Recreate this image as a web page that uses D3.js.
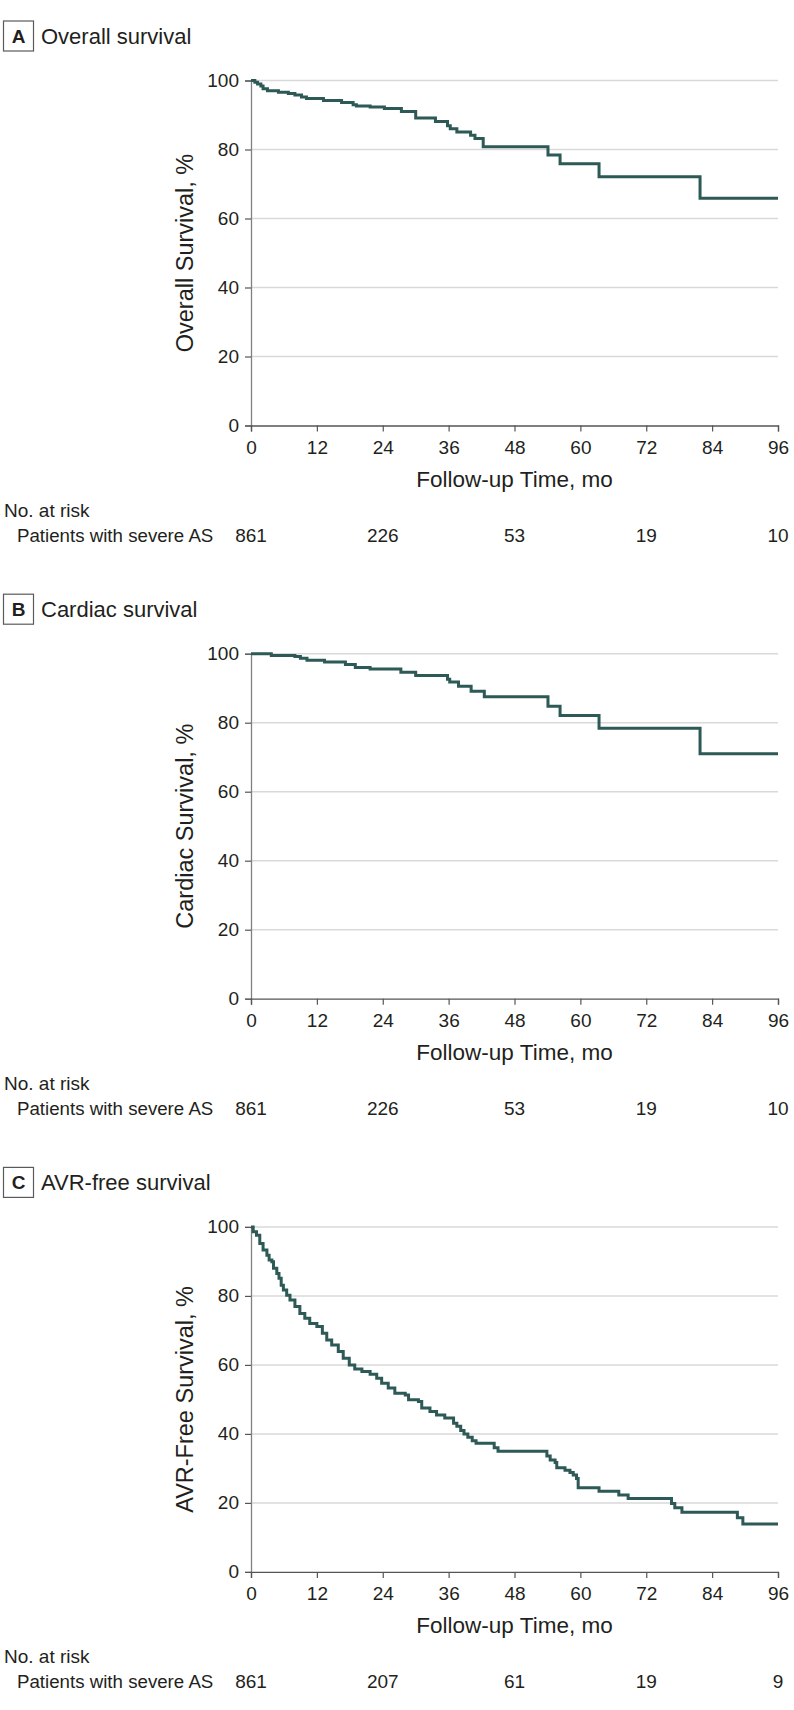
<!DOCTYPE html>
<html><head><meta charset="utf-8">
<script src="https://cdn.jsdelivr.net/npm/d3@7"></script>
<style>
html,body{margin:0;padding:0;background:#fff;}
svg text{font-family:"Liberation Sans",Arial,sans-serif;fill:#231f20;}
</style></head>
<body>
<svg id="chart" width="794" height="1710"></svg>
<script>
// ---------- data ----------
const panelLetters = ["A", "B", "C"];
const panelTitles = ["Overall survival", "Cardiac survival", "AVR-free survival"];
const yAxisTitles = ["Overall Survival, %", "Cardiac Survival, %", "AVR-Free Survival, %"];
const xAxisTitle = "Follow-up Time, mo";
const xTicks = [0, 12, 24, 36, 48, 60, 72, 84, 96];
const yTicks = [0, 20, 40, 60, 80, 100];
const riskLabel = "No. at risk";
const riskGroup = "Patients with severe AS";
const riskTimes = [0, 24, 48, 72, 96];
const riskA = [861, 226, 53, 19, 10];
const riskB = [861, 226, 53, 19, 10];
const riskC = [861, 207, 61, 19, 9];

// step curves: time (mo) at which survival drops, and survival (%) after drop
const timeA = [0, 0.7, 1.2, 1.8, 2.2, 3.0, 5.0, 6.8, 8.0, 9.2, 10.1, 13.2, 16.5, 18.6, 19.2, 21.7, 24.3, 27.4, 30.0, 33.6, 35.8, 36.3, 37.5, 40.0, 40.8, 42.3, 54.1, 56.3, 63.4, 81.8, 96];
const survA = [100, 99.5, 99.0, 98.4, 97.6, 97.0, 96.6, 96.2, 95.8, 95.2, 94.8, 94.2, 93.6, 93.0, 92.6, 92.3, 91.9, 91.0, 89.1, 88.1, 86.9, 86.0, 85.1, 84.1, 83.2, 80.8, 78.4, 75.9, 72.1, 65.9, 65.9];

const timeB = [0, 3.7, 8.0, 9.0, 10.2, 13.4, 17.2, 19.0, 21.7, 27.3, 30.0, 35.8, 36.2, 37.8, 40.1, 42.5, 54.1, 56.3, 63.4, 81.8, 96];
const survB = [100, 99.5, 99.2, 98.7, 98.1, 97.6, 96.9, 96.0, 95.6, 94.6, 93.7, 92.6, 91.8, 90.6, 89.1, 87.5, 84.8, 82.1, 78.4, 71.0, 71.0];

const timeC = [0, 0.4, 1.0, 1.6, 2.2, 2.9, 3.3, 3.8, 4.1, 4.7, 5.1, 5.5, 5.9, 6.5, 7.1, 8.0, 8.9, 9.8, 10.7, 12.0, 13.0, 13.8, 14.7, 15.9, 16.8, 17.9, 18.9, 20.2, 21.7, 22.9, 23.8, 25.0, 26.2, 28.1, 28.7, 30.5, 31.1, 32.6, 33.8, 35.3, 36.9, 37.5, 38.2, 38.8, 39.5, 40.3, 41.0, 44.3, 45.0, 53.9, 54.5, 55.4, 55.7, 57.2, 58.1, 58.7, 59.3, 59.6, 63.4, 67.0, 68.7, 76.6, 77.2, 78.5, 88.6, 89.6, 96];
const survC = [100, 98.6, 97.6, 95.2, 93.3, 91.8, 90.4, 89.9, 88.0, 86.5, 85.1, 83.1, 81.7, 80.2, 78.8, 76.9, 74.9, 73.5, 72.0, 71.1, 69.2, 67.2, 65.8, 63.9, 61.9, 60.0, 58.8, 58.1, 57.3, 56.1, 54.7, 53.3, 51.8, 51.3, 49.9, 49.4, 47.5, 46.5, 45.5, 44.6, 43.1, 42.2, 41.0, 40.0, 39.0, 38.0, 37.3, 36.0, 35.0, 33.6, 32.4, 31.7, 30.2, 29.5, 28.8, 28.1, 27.1, 24.4, 23.4, 22.3, 21.3, 19.8, 18.6, 17.3, 15.7, 13.9, 13.9];

const panels = [
  {times: timeA, surv: survA, risk: riskA},
  {times: timeB, surv: survB, risk: riskB},
  {times: timeC, surv: survC, risk: riskC}
];

// ---------- drawing ----------
const svg = d3.select("#chart");
const curveColor = "#2d5956";
const fontFam = '"Liberation Sans",Arial,sans-serif';
const panelStep = 573.2;
const x = d3.scaleLinear().domain([0, 96]).range([251, 778]);

panels.forEach((p, i) => {
  const off = i * panelStep;
  const y = d3.scaleLinear().domain([0, 100]).range([425.5 + off, 80.5 + off]);
  const g = svg.append("g");

  // panel letter box + title
  g.append("rect").attr("x", 3.5).attr("y", off + 21).attr("width", 30).attr("height", 30)
    .attr("fill", "#fff").attr("stroke", "#5a5a5a").attr("stroke-width", 1.2);
  g.append("text").attr("x", 18.5).attr("y", off + 43).attr("text-anchor", "middle")
    .attr("font-size", 19).attr("font-weight", "bold").text(panelLetters[i]);
  g.append("text").attr("x", 41).attr("y", off + 44).attr("font-size", 22).text(panelTitles[i]);

  // gridlines
  g.append("g").selectAll("line").data(yTicks.filter(d => d > 0)).join("line")
    .attr("x1", x(0)).attr("x2", x(96)).attr("y1", d => y(d)).attr("y2", d => y(d))
    .attr("stroke", "#d9d9d9").attr("stroke-width", 1.5);

  // y axis
  const ya = g.append("g").attr("transform", `translate(${x(0)},0)`)
    .call(d3.axisLeft(y).tickValues(yTicks).tickSize(6).tickPadding(6));
  ya.select(".domain").attr("stroke", "#808080").attr("stroke-width", 1.3);
  ya.selectAll(".tick line").attr("stroke", "#555").attr("stroke-width", 1.2);
  ya.selectAll(".tick text").attr("font-size", 19).attr("fill", "#231f20")
    .style("font-family", fontFam);

  // x axis
  const xa = g.append("g").attr("transform", `translate(0,${y(0)})`)
    .call(d3.axisBottom(x).tickValues(xTicks).tickSize(6).tickPadding(9));
  xa.select(".domain").attr("stroke", "#555").attr("stroke-width", 1.3);
  xa.selectAll(".tick line").attr("stroke", "#555").attr("stroke-width", 1.2);
  xa.selectAll(".tick text").attr("font-size", 19).attr("fill", "#231f20")
    .style("font-family", fontFam);

  // axis titles
  g.append("text").attr("x", (x(0) + x(96)) / 2).attr("y", y(0) + 61)
    .attr("text-anchor", "middle").attr("font-size", 22.5).text(xAxisTitle);
  g.append("text").attr("transform", `translate(193,${(y(0) + y(100)) / 2}) rotate(-90)`)
    .attr("text-anchor", "middle").attr("font-size", 23.5).text(yAxisTitles[i]);

  // curve
  const pts = p.times.map((t, k) => [t, p.surv[k]]);
  g.append("path").datum(pts)
    .attr("d", d3.line().x(d => x(d[0])).y(d => y(d[1])).curve(d3.curveStepAfter))
    .attr("fill", "none").attr("stroke", curveColor).attr("stroke-width", 3)
    .attr("stroke-linejoin", "miter");

  // risk table
  g.append("text").attr("x", 4).attr("y", y(0) + 91.5).attr("font-size", 19).text(riskLabel);
  g.append("text").attr("x", 17).attr("y", y(0) + 116).attr("font-size", 18.7).text(riskGroup);
  g.append("g").selectAll("text").data(riskTimes).join("text")
    .attr("x", d => x(d)).attr("y", y(0) + 116).attr("text-anchor", "middle")
    .attr("font-size", 19).text((d, k) => p.risk[k]);
});
</script>
</body></html>
